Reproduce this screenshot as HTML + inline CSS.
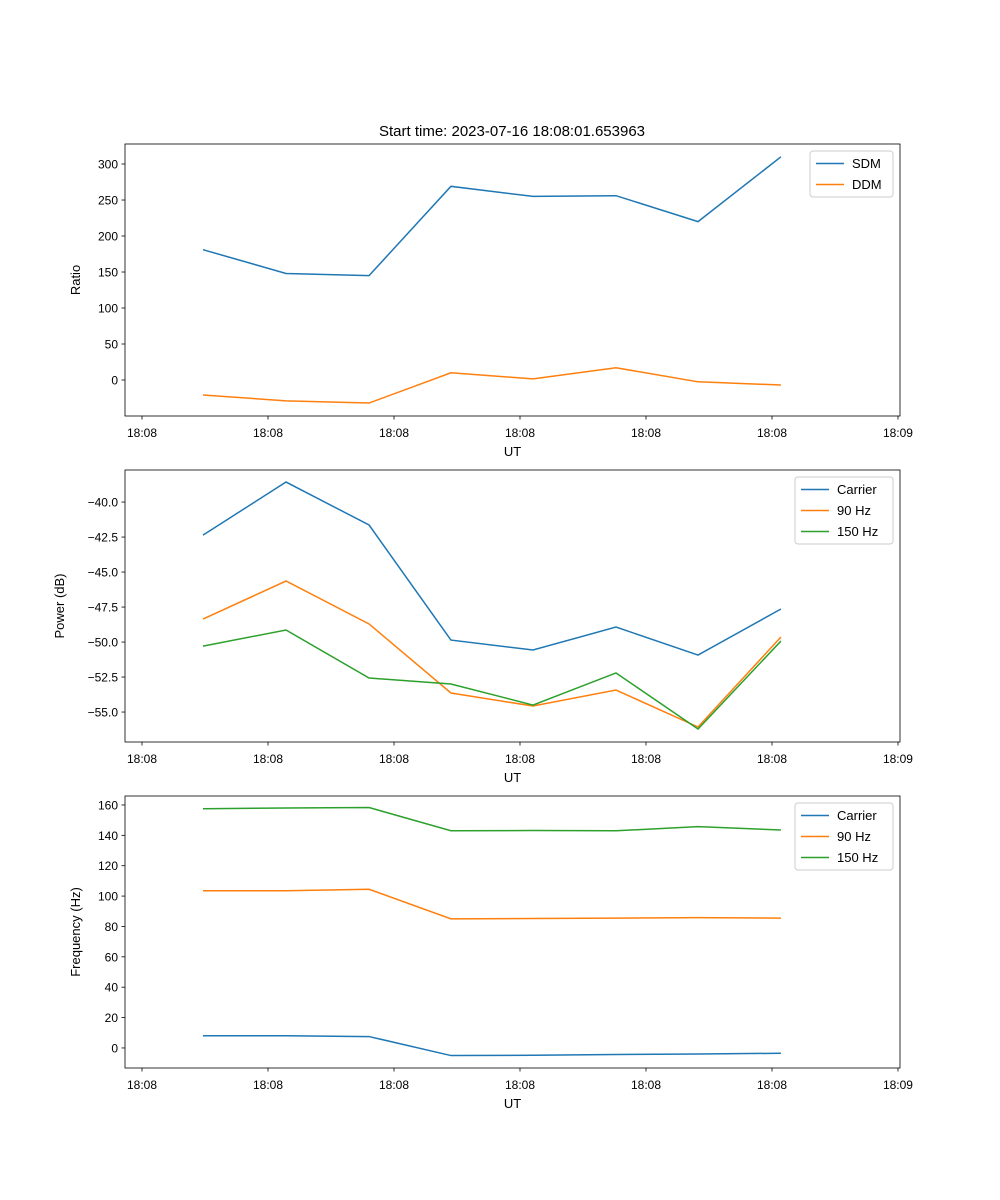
<!DOCTYPE html>
<html><head><meta charset="utf-8"><style>
body{margin:0;background:#fff}
svg{display:block;font-family:"Liberation Sans","DejaVu Sans",sans-serif}
</style></head><body>
<svg id="fig" width="1000" height="1200"></svg>
<script>
const xSeconds = [4.84, 11.43, 18.02, 24.52, 31.03, 37.62, 44.13, 50.71];
const xTickLabels = ["18:08","18:08","18:08","18:08","18:08","18:08","18:09"];
const sdm = [181, 148, 145, 269, 255, 256, 220, 310];
const ddm = [-20.8, -29, -32, 10, 1.5, 17, -2.5, -7];
const powCarrier = [-42.36, -38.57, -41.64, -49.86, -50.57, -48.93, -50.93, -47.64];
const pow90 = [-48.36, -45.64, -48.71, -53.64, -54.57, -53.43, -56.07, -49.64];
const pow150 = [-50.29, -49.14, -52.57, -53, -54.5, -52.21, -56.21, -49.93];
const freqCarrier = [8, 8, 7.5, -5, -4.8, -4.3, -4, -3.5];
const freq90 = [103.5, 103.5, 104.5, 85, 85.2, 85.5, 85.8, 85.5];
const freq150 = [157.5, 158, 158.3, 143, 143.2, 143, 145.7, 143.5];
const yTicks1 = [0, 50, 100, 150, 200, 250, 300];
const yTicks2 = [-55, -52.5, -50, -47.5, -45, -42.5, -40];
const yTicks3 = [0, 20, 40, 60, 80, 100, 120, 140, 160];

const NS = "http://www.w3.org/2000/svg";
const svg = document.getElementById('fig');
function mk(tag, attrs, parent, txt){const e=document.createElementNS(NS,tag);for(const k in attrs)e.setAttribute(k,attrs[k]);if(txt!==undefined)e.textContent=txt;(parent||svg).appendChild(e);return e;}
const L=125,R=900, xmin=-1.35, xmax=60.16;
const sx=v=>L+(v-xmin)/(xmax-xmin)*(R-L);
const colors=["#1f77b4","#ff7f0e","#2ca02c"];

function panel(name, top, bottom, ymin, ymax, yTicks, fmt, ylabel, series, names, legW){
  const g=mk('g',{},svg);  
  const sy=v=>bottom-(v-ymin)/(ymax-ymin)*(bottom-top);
  xTickLabels.forEach((lab,i)=>{const x=sx(i*10);
    const t=mk('line',{x1:x,x2:x,y1:bottom,y2:bottom+3.5,stroke:'#000','stroke-width':0.8},g);
     
    const tl=mk('text',{x:x,y:bottom+21,'font-size':12,'text-anchor':'middle'},g,lab);
     });
  yTicks.forEach(v=>{const y=sy(v);
    const t=mk('line',{x1:L-3.5,x2:L,y1:y,y2:y,stroke:'#000','stroke-width':0.8},g);
     
    const tl=mk('text',{x:L-7,y:y+4.5,'font-size':12,'text-anchor':'end'},g,fmt(v));
     });
  series.forEach((s,k)=>{
    const p=mk('polyline',{points:s.map((v,i)=>sx(xSeconds[i])+','+sy(v)).join(' '),fill:'none',stroke:colors[k],'stroke-width':1.5},g);
     });
  const fr=mk('rect',{x:L,y:top,width:R-L,height:bottom-top,fill:'none',stroke:'#000','stroke-width':0.8},g);
   
  const xl=mk('text',{x:(L+R)/2,y:bottom+40,'font-size':13,'text-anchor':'middle'},g,'UT');
   
  const yl=mk('text',{x:0,y:0,'font-size':13,'text-anchor':'middle',transform:`translate(${ylabel[1]},${(top+bottom)/2}) rotate(-90)`},g,ylabel[0]);
   
  const lx=R-7-legW, ly=top+7, lh=4+names.length*21;
  const lg=mk('g',{},g);  
  mk('rect',{x:lx,y:ly,width:legW,height:lh,rx:3,fill:'#fff','fill-opacity':0.8,stroke:'#ccc'},lg);
  names.forEach((n,k)=>{const y=ly+12.5+k*21;
    const e=mk('g',{},lg);  
    mk('line',{x1:lx+6,x2:lx+34,y1:y,y2:y,stroke:colors[k],'stroke-width':1.5},e);
    mk('text',{x:lx+42,y:y+4.5,'font-size':13},e,n);});
}
const ttl=mk('text',{x:512,y:136,'font-size':15,'text-anchor':'middle'},svg,'Start time: 2023-07-16 18:08:01.653963');
 
panel('ratio-panel',144,416,-50,327.8,yTicks1,v=>v<0?'\u2212'+(-v):String(v),['Ratio',80],[sdm,ddm],['SDM','DDM'],83);
panel('power-panel',470,742,-57.14,-37.71,yTicks2,v=>'\u2212'+(-v).toFixed(1),['Power (dB)',64],[powCarrier,pow90,pow150],['Carrier','90 Hz','150 Hz'],98);
panel('frequency-panel',796,1068,-13.2,165.9,yTicks3,v=>String(v),['Frequency (Hz)',80],[freqCarrier,freq90,freq150],['Carrier','90 Hz','150 Hz'],98);
</script>
</body></html>
